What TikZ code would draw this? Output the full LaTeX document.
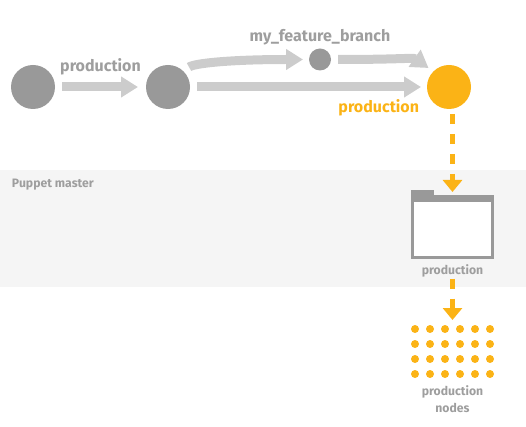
\documentclass[tikz,border=0pt]{standalone}
\usepackage{fontspec}
\setmainfont{Fira Sans}
\usetikzlibrary{arrows.meta,positioning}
\definecolor{dotgray}{HTML}{999999}
\definecolor{flowgray}{HTML}{CCCCCC}
\definecolor{txtgray}{HTML}{9E9E9E}
\definecolor{puporange}{HTML}{FBB316}
\definecolor{bandgray}{HTML}{F5F5F5}
\tikzset{
  commit/.style={circle, fill=dotgray, inner sep=0, outer sep=0, minimum size=44pt},
  flow/.style={flowgray, line width=9pt, -{Triangle[length=17pt,width=20pt]}},
  deploy/.style={puporange, line width=5pt, dash pattern=on 10pt off 10pt,
    -{Triangle[length=12pt,width=19pt]}},
  lbl/.style={text=txtgray, font=\bfseries\fontsize{16}{18}\selectfont, inner sep=0, outer sep=0},
  smalllbl/.style={text=txtgray, font=\bfseries\fontsize{12.2}{17}\selectfont, inner sep=0, outer sep=0},
}
\begin{document}
\begin{tikzpicture}[x=1pt,y=-1pt]
\useasboundingbox (0,0) rectangle (526,427);
\fill[bandgray] (0,170) rectangle (526,287);
\node[smalllbl, anchor=base west] (master) at (12,188) {Puppet master};

\node[commit] (c1) at (33,87) {};
\node[commit] (c2) at (168,87) {};
\node[commit, minimum size=22pt] (br) at (320,59.5) {};
\node[commit, fill=puporange] (org) at (449,87) {};

\draw[flow, shorten <=7pt, shorten >=8pt] (c1) -- (c2)
  node[midway, above=12pt, lbl] (prodlbl) {production};
\draw[flow, shorten <=7pt, shorten >=6pt] (c2) -- (org);
\draw[flow, shorten <=7pt, shorten >=6pt] (c2.45) .. controls +(10,-8) and +(-80,0) .. (br.west);
\draw[flow, shorten <=7pt, shorten >=6pt] (br.east) .. controls +(70,0) and +(-20,-14) .. (org.135);
\node[lbl, above=3pt of br] (brlbl) {my\_feature\_branch};
\node[lbl, text=puporange, anchor=east] (orglbl) at ([shift={(-8,21)}]org.west) {production};

\node[draw=dotgray, line width=3pt, fill=white, minimum width=80pt, minimum height=61pt,
  inner sep=0] (env) at (452.5,227) {};
\fill[dotgray] (env.north west) rectangle ([yshift=-7pt]env.north east);
\fill[dotgray] (env.north west) rectangle ++(23,-5);
\node[smalllbl, below=6pt of env] (envlbl) {production};

\node[minimum width=83pt, minimum height=53pt, inner sep=0, outer sep=0] (fleet) at (452.5,351.5) {};
\foreach \col in {0,...,5}
  \foreach \row in {0,...,3}
    \fill[puporange] ([shift={(4+15*\col,4+15*\row)}]fleet.north west) circle (4pt);
\node[smalllbl, align=center, below=8pt of fleet] (fleetlbl) {production\\nodes};

\draw[deploy, shorten <=5pt, shorten >=3pt] (env.north |- org.south) -- (env.north);
\draw[deploy, shorten <=1pt, shorten >=5pt] (envlbl) -- (fleet);
\end{tikzpicture}
\end{document}
